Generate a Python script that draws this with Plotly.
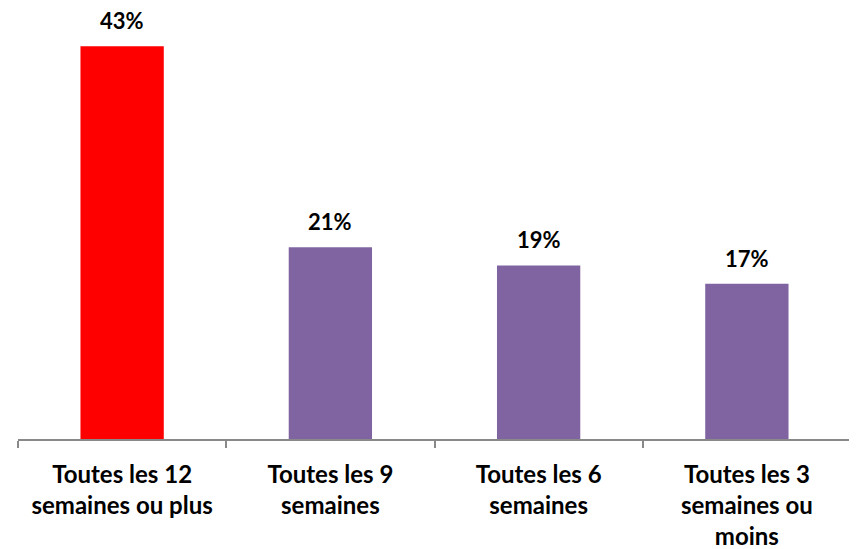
import plotly.graph_objects as go

categories = ["Toutes les 12<br>semaines ou plus", "Toutes les 9<br>semaines",
              "Toutes les 6<br>semaines", "Toutes les 3<br>semaines ou<br>moins"]
values = [43, 21, 19, 17]
labels = ["43%", "21%", "19%", "17%"]
colors = ["#FF0000", "#8064A2", "#8064A2", "#8064A2"]

fig = go.Figure()
fig.add_trace(go.Bar(
    x=categories, y=values,
    marker=dict(color=colors, line=dict(width=0)),
    width=0.4,
))
# value labels above each bar
for c, v, t in zip(categories, values, labels):
    fig.add_annotation(x=c, y=v, text=t, showarrow=False, yanchor="bottom", yshift=10,
                       font=dict(family="Lato", size=22, color="black", weight="bold"))

fig.update_xaxes(
    showline=True, linecolor="#898989", linewidth=2,
    ticks="outside", tickson="boundaries", ticklen=7, tickcolor="#898989", tickwidth=2,
    tickfont=dict(family="Lato", size=24, color="black", weight="bold"),
    ticklabelstandoff=13,
)
fig.update_yaxes(range=[0, 45], visible=False, showgrid=False)
fig.update_layout(
    width=849, height=541, showlegend=False,
    plot_bgcolor="white", paper_bgcolor="white",
    margin=dict(l=10, r=6, t=20, b=110, autoexpand=False),
)
fig.write_html("out.html")
